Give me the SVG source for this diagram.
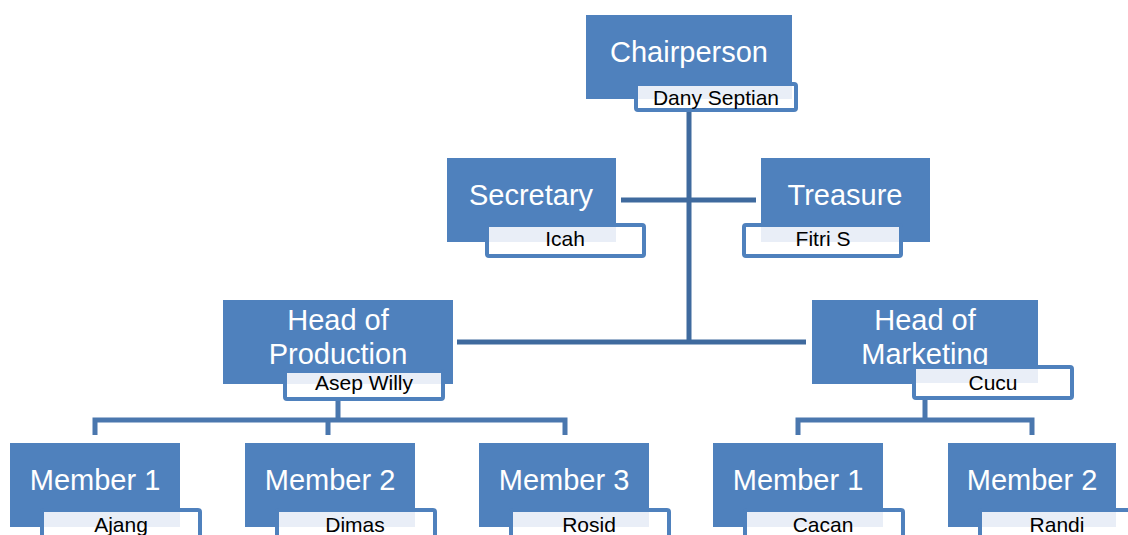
<svg xmlns="http://www.w3.org/2000/svg" width="1128" height="535" viewBox="0 0 1128 535">
<style>
.box{fill:#4F81BD}
.sub{fill:#FFFFFF;stroke:#4F81BD;stroke-width:4}
.pale{fill:#E9EEF7}
.t{font-family:"Liberation Sans",Arial,sans-serif;font-size:29px;fill:#FFFFFF;text-anchor:middle}
.n{font-family:"Liberation Sans",Arial,sans-serif;font-size:21px;fill:#000000;text-anchor:middle}
.c1{stroke:#3F6A9E;stroke-width:5;fill:none}
.c2{stroke:#4A77AE;stroke-width:5;fill:none}
</style>
<rect width="1128" height="535" fill="#FFFFFF"/>
<g id="connectors">
<line class="c1" x1="689" y1="110" x2="689" y2="344"/>
<line class="c1" x1="621" y1="200" x2="756" y2="200"/>
<line class="c1" x1="457" y1="342" x2="806" y2="342"/>
<path class="c2" d="M338 400 V420 M95 435 V420 H565 V435 M328 420 V435"/>
<path class="c2" d="M925 398 V420 M798 435 V420 H1032 V435"/>
</g>
<g id="chairperson">
<rect class="box" x="586" y="15" width="206" height="84"/>
<text class="t" x="689" y="62">Chairperson</text>
<rect class="sub" x="636" y="84" width="160" height="26" rx="2"/>
<rect class="pale" x="638" y="86" width="154" height="13"/>
<text class="n" x="716" y="105">Dany Septian</text>
</g>
<g id="secretary">
<rect class="box" x="447" y="158" width="169" height="84"/>
<text class="t" x="531" y="205">Secretary</text>
<rect class="sub" x="487" y="225" width="157" height="31" rx="2"/>
<rect class="pale" x="489" y="227" width="127" height="15"/>
<text class="n" x="565" y="246">Icah</text>
</g>
<g id="treasure">
<rect class="box" x="761" y="158" width="169" height="84"/>
<text class="t" x="845" y="205">Treasure</text>
<rect class="sub" x="744" y="225" width="157" height="31" rx="2"/>
<rect class="pale" x="761" y="227" width="138" height="15"/>
<text class="n" x="823" y="246">Fitri S</text>
</g>
<g id="head-production">
<rect class="box" x="223" y="300" width="230" height="84"/>
<text class="t" x="338" y="330">Head of</text>
<text class="t" x="338" y="364">Production</text>
<rect class="sub" x="285" y="371" width="158" height="28" rx="2"/>
<rect class="pale" x="287" y="373" width="154" height="11"/>
<text class="n" x="364" y="390">Asep Willy</text>
</g>
<g id="head-marketing">
<rect class="box" x="812" y="300" width="226" height="84"/>
<text class="t" x="925" y="330">Head of</text>
<text class="t" x="925" y="364">Marketing</text>
<rect class="sub" x="914" y="367" width="158" height="31" rx="2"/>
<rect class="pale" x="916" y="369" width="122" height="14"/>
<text class="n" x="993" y="390">Cucu</text>
</g>
<g id="prod-member-1">
<rect class="box" x="10" y="443" width="170" height="84"/>
<text class="t" x="95" y="490">Member 1</text>
<rect class="sub" x="42" y="510" width="158" height="40" rx="2"/>
<rect class="pale" x="44" y="512" width="136" height="15"/>
<text class="n" x="121" y="532">Ajang</text>
</g>
<g id="prod-member-2">
<rect class="box" x="245" y="443" width="170" height="84"/>
<text class="t" x="330" y="490">Member 2</text>
<rect class="sub" x="277" y="510" width="158" height="40" rx="2"/>
<rect class="pale" x="279" y="512" width="136" height="15"/>
<text class="n" x="355" y="532">Dimas</text>
</g>
<g id="prod-member-3">
<rect class="box" x="479" y="443" width="170" height="84"/>
<text class="t" x="564" y="490">Member 3</text>
<rect class="sub" x="511" y="510" width="158" height="40" rx="2"/>
<rect class="pale" x="513" y="512" width="136" height="15"/>
<text class="n" x="589" y="532">Rosid</text>
</g>
<g id="mkt-member-1">
<rect class="box" x="713" y="443" width="170" height="84"/>
<text class="t" x="798" y="490">Member 1</text>
<rect class="sub" x="745" y="510" width="158" height="40" rx="2"/>
<rect class="pale" x="747" y="512" width="136" height="15"/>
<text class="n" x="823" y="532">Cacan</text>
</g>
<g id="mkt-member-2">
<rect class="box" x="948" y="443" width="168" height="84"/>
<text class="t" x="1032" y="490">Member 2</text>
<rect class="sub" x="980" y="510" width="158" height="40" rx="2"/>
<rect class="pale" x="982" y="512" width="134" height="15"/>
<text class="n" x="1057" y="532">Randi</text>
</g>
</svg>
